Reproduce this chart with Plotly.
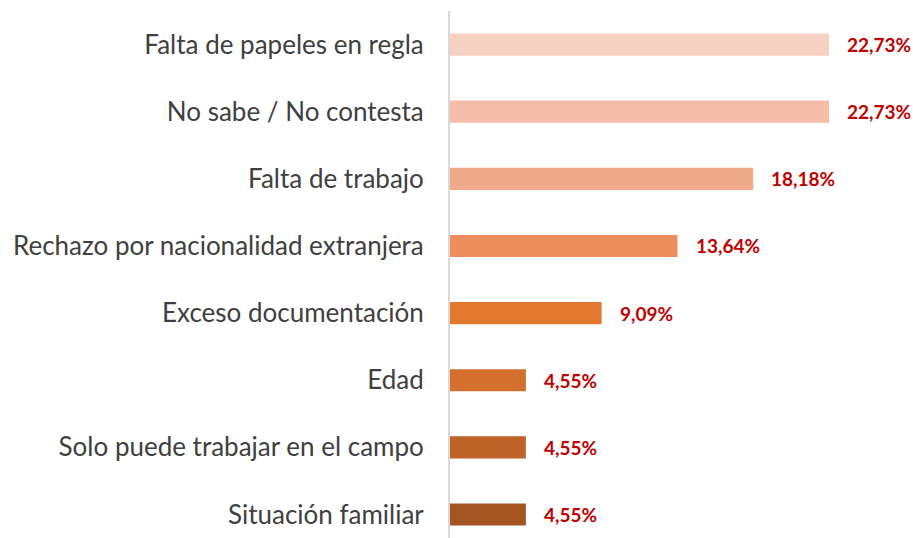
import plotly.graph_objects as go

categories = [
    "Falta de papeles en regla",
    "No sabe / No contesta",
    "Falta de trabajo",
    "Rechazo por nacionalidad extranjera",
    "Exceso documentación",
    "Edad",
    "Solo puede trabajar en el campo",
    "Situación familiar",
]
values = [22.73, 22.73, 18.18, 13.64, 9.09, 4.55, 4.55, 4.55]
labels = [f"{v:.2f}".replace(".", ",") + "%" for v in values]
bar_colors = ["#F6D1C3", "#F3BDA9", "#F0A98A", "#ED8D5D", "#E3782F",
              "#D4702D", "#BE6228", "#A45522"]

fig = go.Figure()
fig.add_trace(go.Bar(
    x=values, y=categories, orientation="h",
    marker=dict(color=bar_colors, line=dict(width=0)),
    hoverinfo="skip",
))
for c, v, t in zip(categories, values, labels):
    fig.add_annotation(x=v, y=c, text=f"<b>{t}</b>", showarrow=False,
                       xanchor="left", yanchor="middle", xshift=16,
                       font=dict(family="Lato", size=19, color="#C00000"))

fig.update_layout(
    width=913, height=538,
    margin=dict(l=450, r=0, t=11, b=0),
    paper_bgcolor="white", plot_bgcolor="white",
    bargap=0.67, showlegend=False,
    xaxis=dict(range=[0, 27.76], visible=False, fixedrange=True),
    yaxis=dict(
        type="category", range=[7.35, -0.5],
        showline=True, linecolor="#D9D9D9", linewidth=2,
        showgrid=False, ticks="", ticklabelstandoff=19,
        tickfont=dict(family="Lato", size=26, color="#404040"),
        fixedrange=True,
    ),
)
fig.write_html("out.html",
               config={"displayModeBar": False},
               post_script="document.body.style.margin='0';document.body.style.overflow='hidden';")
